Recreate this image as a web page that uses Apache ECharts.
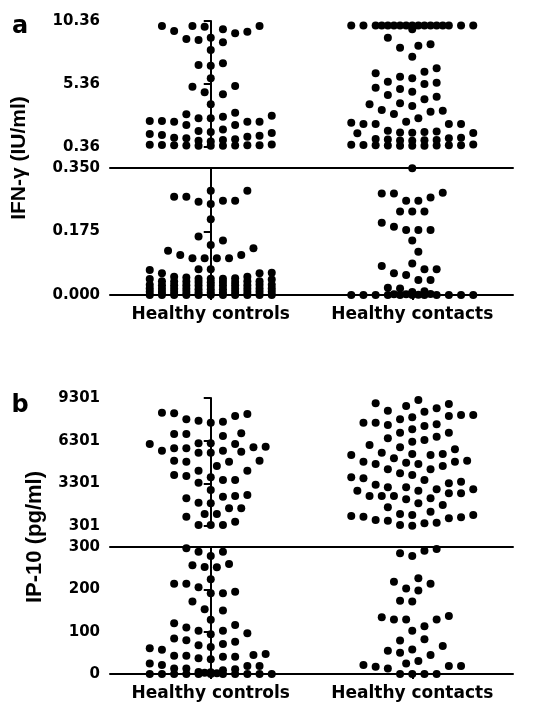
<!DOCTYPE html>
<html><head><meta charset="utf-8">
<script src="https://cdn.jsdelivr.net/npm/echarts@6/dist/echarts.min.js"></script>
<style>html,body{margin:0;padding:0;background:#fff}#c{width:535px;height:704px}</style>
</head><body><div id="c"></div>
<script>
// ---------- data ----------
const categories = ['Healthy controls', 'Healthy contacts'];
const ifnTicksUpper = [0.36, 5.36, 10.36];
const ifnTicksLower = [0, 0.175, 0.35];
const ipTicksUpper = [301, 3301, 6301, 9301];
const ipTicksLower = [0, 100, 200, 300];
const ifnBreak = 0.35;   // values above go to the upper segment
const ipBreak = 300;

const ifnControls = [
  9.96, 9.96, 9.96, 9.91, 9.70, 9.57, 9.51, 9.38, 9.03, 8.93, 8.85, 8.67, 8.06,
  7.00, 6.87, 6.81, 5.81, 5.20, 5.15, 4.70, 4.54, 3.75, 3.08, 2.96, 2.84, 2.76,
  2.64, 2.64, 2.42, 2.42, 2.37, 2.37, 2.37, 2.11, 2.11,
  1.75, 1.62, 1.55, 1.48, 1.40, 1.32, 1.25, 1.18, 1.10, 1.05, 0.98, 0.92, 0.85, 0.80,
  0.55, 0.53, 0.52, 0.50, 0.50, 0.49, 0.48, 0.47, 0.46, 0.45, 0.45,
  0.287, 0.287, 0.271, 0.271, 0.260, 0.260, 0.257, 0.251, 0.209, 0.161, 0.150, 0.138,
  0.129, 0.122, 0.110, 0.110, 0.101, 0.101, 0.101, 0.101, 0.071, 0.071, 0.069, 0.060, 0.060,
  0.061, 0.050, 0.050, 0.046, 0.045, 0.045, 0.045, 0.044, 0.043, 0.048,
  0.038, 0.037, 0.036, 0.038, 0.035, 0.036, 0.037, 0.038, 0.036,
  0.028, 0.027, 0.026, 0.027, 0.028, 0.026, 0.027, 0.027, 0.026, 0.028, 0.027,
  0.018, 0.017, 0.016, 0.017, 0.018, 0.017, 0.016, 0.017, 0.018, 0.017, 0.016,
  0.009, 0.008, 0.007, 0.008, 0.009, 0.008, 0.007, 0.008, 0.009, 0.008, 0.007,
  0, 0, 0, 0, 0, 0, 0, 0, 0, 0, 0
];
const ifnContacts = [
  10.0, 10.0, 10.0, 10.0, 10.0, 10.0, 10.0, 10.0, 10.0, 10.0, 10.0, 10.0, 10.0, 10.0,
  10.0, 10.0, 10.0, 9.70,
  9.03, 8.51, 8.40, 8.24, 7.53, 6.61, 6.34, 6.21, 5.94, 5.81, 5.54, 5.46, 5.36, 5.07,
  4.96, 4.75, 4.49, 4.35, 4.14, 3.83, 3.75, 3.61, 3.30, 3.24, 3.16, 2.98, 2.64, 2.37,
  2.29, 2.19, 2.19, 2.19, 2.19,
  1.65, 1.60, 1.55, 1.52, 1.50, 1.48, 1.45,
  1.10, 1.05, 1.00, 0.95, 0.92, 0.90, 0.88, 0.85,
  0.55, 0.53, 0.52, 0.50, 0.50, 0.49, 0.48, 0.47, 0.46, 0.45, 0.45,
  0.349, 0.282, 0.280, 0.280, 0.269, 0.260, 0.260, 0.230, 0.230, 0.230, 0.199, 0.188,
  0.179, 0.179, 0.179, 0.150, 0.119, 0.087, 0.080, 0.071, 0.071, 0.060, 0.055, 0.041,
  0.041, 0.020, 0.018, 0.010, 0.008,
  0.003, 0.002, 0.002, 0.001, 0, 0, 0, 0, 0, 0, 0, 0, 0, 0, 0
];
const ip10Controls = [
  8266, 8224, 8174, 8034, 7802, 7704, 7633, 7563, 6818, 6769, 6769, 6628, 6115, 6115,
  6066, 6066, 5876, 5834, 5763, 5763, 5595, 5595, 5524, 5454, 5454, 4892, 4892, 4821,
  4821, 4519, 4189, 4189, 3886, 3816, 3724, 3535, 3535, 3345, 2832, 2480, 2410, 2361,
  2248, 1939, 1897, 1545, 1545, 1145, 1145, 955, 603, 371, 371, 371,
  297, 289, 289, 279, 260, 257, 253, 252, 224, 213, 213, 205, 194, 191, 191, 171, 153,
  150, 128, 120, 116, 110, 102, 102, 96, 94, 84, 80, 76, 71, 68, 64, 61, 57, 47, 45,
  43, 43, 41, 41, 37, 35, 25, 21, 19, 19, 13, 13, 11, 9, 5, 4, 3, 2,
  0, 0, 0, 0, 0, 0, 0, 0, 0, 0, 0
];
const ip10Contacts = [
  9159, 8927, 8878, 8737, 8575, 8406, 8336, 8104, 8104, 8034, 7943, 7802, 7563, 7563,
  7451, 7401, 7331, 7099, 6860, 6860, 6579, 6466, 6347, 6227, 5996, 5834, 5693, 5454,
  5363, 5363, 5292, 5292, 5060, 4892, 4821, 4821, 4751, 4660, 4660, 4519, 4287, 4287,
  4006, 3886, 3724, 3654, 3535, 3415, 3300, 3200, 3022, 3022, 2881, 2881, 2782, 2782,
  2600, 2600, 2410, 2410, 2410, 2248, 2178, 1897, 1777, 1615, 1306, 1145, 1074, 1074,
  1004, 955, 913, 842, 723, 674, 533, 491, 371, 320,
  295, 291, 285, 279, 226, 218, 213, 202, 197, 173, 171, 137, 134, 129, 129, 129, 113,
  102, 82, 79, 66, 58, 55, 50, 45, 31, 25, 21, 19, 19, 17, 13, 0, 0, 0, 0
];

// ---------- chart ----------
const FONT = 'DejaVu Sans';
const chart = echarts.init(document.getElementById('c'), null, { renderer: 'canvas' });

const grids = [
  { left: 110, top: 21, width: 403, height: 126 },
  { left: 110, top: 168, width: 403, height: 127 },
  { left: 110, top: 398, width: 403, height: 128 },
  { left: 110, top: 547, width: 403, height: 127 }
];
const yDefs = [
  { min: 0.36, max: 10.36, ticks: ifnTicksUpper, fmt: v => v.toFixed(2) },
  { min: 0, max: 0.35, ticks: ifnTicksLower, fmt: v => v.toFixed(3) },
  { min: 301, max: 9301, ticks: ipTicksUpper, fmt: v => String(Math.round(v)) },
  { min: 0, max: 300, ticks: ipTicksLower, fmt: v => String(Math.round(v)) }
];
const black = '#000';
const lineW = 2;

const yAxes = yDefs.map((d, i) => ({
  type: 'value', gridIndex: i, min: d.min, max: d.max,
  axisLine: { show: true, lineStyle: { color: black, width: lineW } },
  axisTick: { show: true, inside: false, length: 7, customValues: d.ticks,
    lineStyle: { color: black, width: lineW } },
  axisLabel: { show: true, customValues: d.ticks, formatter: d.fmt, margin: 10,
    color: black, fontFamily: FONT, fontWeight: 'bold', fontSize: 15 },
  splitLine: { show: false }
}));

const xAxes = [];
grids.forEach((g, i) => {
  const bottom = (i === 1 || i === 3);
  xAxes.push({
    type: 'value', gridIndex: i, min: -0.5, max: 1.5, position: 'bottom',
    axisLine: { show: bottom, onZero: false, lineStyle: { color: black, width: lineW } },
    axisTick: { show: bottom, length: 5, customValues: [0, 1], lineStyle: { color: black, width: lineW } },
    axisLabel: { show: bottom, customValues: [0, 1], formatter: v => categories[Math.round(v)],
      margin: 11, color: black, fontFamily: FONT, fontWeight: 'bold', fontSize: 17 },
    splitLine: { show: false }
  });
});
// break lines across the top of the lower segments
[1, 3].forEach(i => {
  xAxes.push({
    type: 'value', gridIndex: i, min: -0.5, max: 1.5, position: 'top',
    axisLine: { show: true, onZero: false, lineStyle: { color: black, width: lineW } },
    axisTick: { show: false }, axisLabel: { show: false }, splitLine: { show: false }
  });
});

const graphic = [
  { type: 'text', x: 20, y: 27, style: { text: 'a', font: 'bold 24px "DejaVu Sans"', fill: black, align: 'center', verticalAlign: 'middle' } },
  { type: 'text', x: 20, y: 406, style: { text: 'b', font: 'bold 24px "DejaVu Sans"', fill: black, align: 'center', verticalAlign: 'middle' } },
  { type: 'text', x: 19, y: 158, rotation: Math.PI / 2, style: { text: 'IFN-γ (IU/ml)', font: 'bold 21px "Liberation Sans"', fill: black, align: 'center', verticalAlign: 'middle' } },
  { type: 'text', x: 35, y: 537, rotation: Math.PI / 2, style: { text: 'IP-10 (pg/ml)', font: 'bold 22px "Liberation Sans"', fill: black, align: 'center', verticalAlign: 'middle' } }
];

chart.setOption({
  animation: false,
  backgroundColor: '#fff',
  grid: grids.map(g => Object.assign({ outerBoundsMode: 'none', containLabel: false }, g)),
  xAxis: xAxes,
  yAxis: yAxes,
  graphic: graphic,
  series: []
});

// ---------- swarm layout (Prism-like) ----------
function swarm(vals, ys, slot, D, maxSlot) {
  const idx = vals.map((_, i) => i).sort((a, b) => vals[a] - vals[b] || a - b);
  const placed = [];
  const out = new Array(vals.length);
  const cands = [];
  for (let k = -2 * maxSlot; k <= 2 * maxSlot; k++) cands.push(k / 2);
  let side = -1;
  const clearance = (s, y) => {
    let m = Infinity;
    for (const p of placed) {
      const d = Math.hypot((p.s - s) * slot, p.y - y);
      if (d < m) m = d;
    }
    return m;
  };
  const pick = list => {
    const minAbs = Math.min(...list.map(Math.abs));
    const opts = list.filter(s => Math.abs(s) === minAbs);
    if (opts.length === 1) return opts[0];
    const s = side < 0 ? Math.min(...opts) : Math.max(...opts);
    side = -side;
    return s;
  };
  for (const i of idx) {
    const y = ys[i];
    const cl = cands.map(s => ({ s, c: clearance(s, y) }));
    const free = cl.filter(o => o.c >= D).map(o => o.s);
    let s;
    if (free.length) s = pick(free);
    else {
      const ints = cl.filter(o => Number.isInteger(o.s));
      const maxInt = Math.max(...ints.map(o => o.c));
      if (maxInt >= 1.5) s = pick(ints.filter(o => o.c >= maxInt - 0.01).map(o => o.s));
      else {
        const maxAll = Math.max(...cl.map(o => o.c));
        s = pick(cl.filter(o => o.c >= maxAll - 0.01).map(o => o.s));
      }
    }
    placed.push({ s, y });
    out[i] = s;
  }
  return out;
}

const SLOT = 12.2, DIAM = 12, MAXS = 5;
const panels = [
  { groups: [ifnControls, ifnContacts], brk: ifnBreak, upper: 0, lower: 1 },
  { groups: [ip10Controls, ip10Contacts], brk: ipBreak, upper: 2, lower: 3 }
];
const series = [];
panels.forEach(p => {
  p.groups.forEach((vals, ci) => {
    [[p.upper, vals.filter(v => v > p.brk)], [p.lower, vals.filter(v => v <= p.brk)]].forEach(([gi, vs]) => {
      const pix = vs.map(v => chart.convertToPixel({ gridIndex: gi }, [ci, v]));
      const slots = swarm(vs, pix.map(q => q[1]), SLOT, DIAM, MAXS);
      const data = vs.map((v, k) => {
        const x = chart.convertFromPixel({ gridIndex: gi }, [pix[k][0] + slots[k] * SLOT, pix[k][1]])[0];
        return [x, v];
      });
      series.push({
        type: 'scatter', xAxisIndex: gi, yAxisIndex: gi, data: data,
        symbol: 'circle', symbolSize: 8, clip: false,
        itemStyle: { color: black, opacity: 1 }, silent: true
      });
    });
  });
});
chart.setOption({ series: series });
</script>
</body></html>
